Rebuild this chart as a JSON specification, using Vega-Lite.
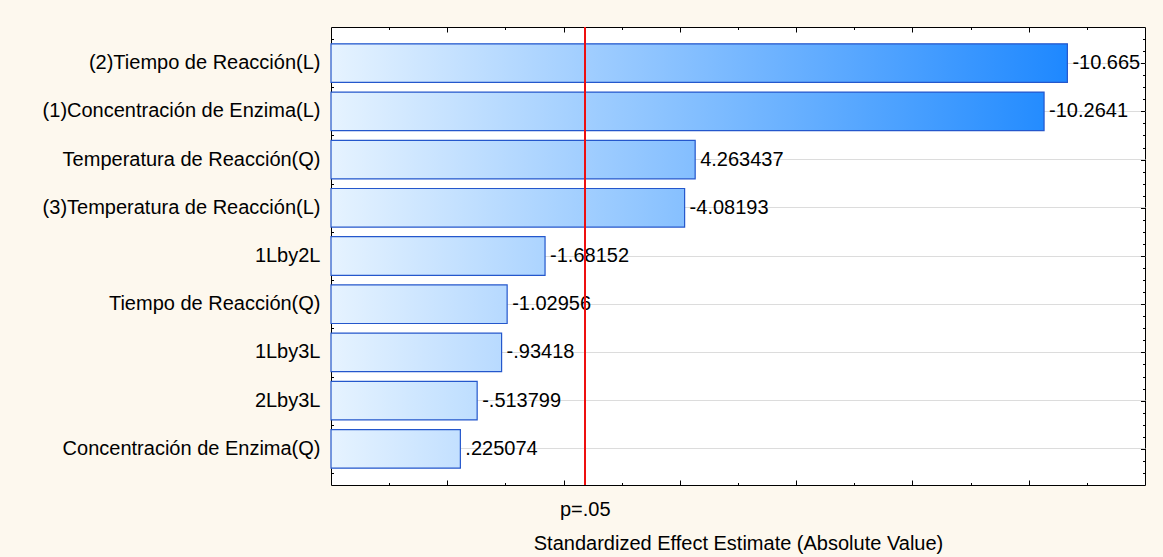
{
  "$schema": "https://vega.github.io/schema/vega-lite/v6.json",
  "width": 814,
  "height": 458,
  "background": "#fdf8ee",
  "padding": {"left": 42, "top": 26, "right": 17, "bottom": 5},
  "config": {
    "font": "Liberation Sans",
    "view": {"stroke": "#000000", "strokeWidth": 1, "fill": "#ffffff"},
    "axis": {
      "labelFont": "Liberation Sans",
      "titleFont": "Liberation Sans",
      "labelColor": "#000000",
      "titleColor": "#000000",
      "tickColor": "#000000",
      "tickWidth": 1,
      "titleFontWeight": "normal",
      "domain": false,
      "grid": false,
      "title": null,
      "maxExtent": 500
    }
  },
  "data": {
    "values": [
      {"effect": "(2)Tiempo de Reacción(L)", "t": 10.665, "label": "-10.665"},
      {"effect": "(1)Concentración de Enzima(L)", "t": 10.2641, "label": "-10.2641"},
      {"effect": "Temperatura de Reacción(Q)", "t": 4.263437, "label": "4.263437"},
      {"effect": "(3)Temperatura de Reacción(L)", "t": 4.08193, "label": "-4.08193"},
      {"effect": "1Lby2L", "t": 1.68152, "label": "-1.68152"},
      {"effect": "Tiempo de Reacción(Q)", "t": 1.02956, "label": "-1.02956"},
      {"effect": "1Lby3L", "t": 0.93418, "label": "-.93418"},
      {"effect": "2Lby3L", "t": 0.513799, "label": "-.513799"},
      {"effect": "Concentración de Enzima(Q)", "t": 0.225074, "label": ".225074"}
    ]
  },
  "layer": [
    {
      "mark": {"type": "bar"},
      "encoding": {
        "y": {"field": "effect", "type": "nominal", "sort": null,
              "scale": {"type": "band", "paddingInner": 0.2, "paddingOuter": 0.35},
              "axis": {"orient": "left", "ticks": false, "grid": true, "gridColor": "#dcdcdc", "gridWidth": 1,
                       "labels": true, "labelFontSize": 20, "labelPadding": 11, "labelLimit": 400}},
        "x": {"field": "t", "type": "quantitative",
              "scale": {"domain": [-2, 12], "nice": false, "zero": false},
              "axis": {"orient": "bottom", "values": [0, 2, 4, 6, 8, 10], "labels": false, "tickSize": -5}},
        "x2": {"datum": -2},
        "color": {"field": "t", "type": "quantitative", "legend": null,
                  "scale": {"domain": [-2, 12], "range": ["#e6f3ff", "#097dff"], "interpolate": "rgb"}}
      }
    },
    {
      "mark": {"type": "bar",
               "fill": {"gradient": "linear", "x1": 0, "x2": 1, "y1": 0, "y2": 0,
                        "stops": [{"offset": 0, "color": "#e6f3ff"}, {"offset": 1, "color": "rgba(230,243,255,0)"}]},
               "stroke": "#2457cc", "strokeWidth": 1.2},
      "encoding": {
        "y": {"field": "effect", "type": "nominal", "sort": null,
              "scale": {"type": "band", "paddingInner": 0.2, "paddingOuter": 0.35}, "axis": null},
        "x": {"field": "t", "type": "quantitative",
              "scale": {"domain": [-2, 12], "nice": false, "zero": false}, "axis": null},
        "x2": {"datum": -2}
      }
    },
    {
      "mark": {"type": "text", "align": "left", "baseline": "middle", "dx": 5, "fontSize": 20, "font": "Liberation Sans", "color": "#000000"},
      "encoding": {
        "y": {"field": "effect", "type": "nominal", "sort": null, "bandPosition": 0.5,
              "scale": {"type": "band", "paddingInner": 0.2, "paddingOuter": 0.35}, "axis": null},
        "x": {"field": "t", "type": "quantitative",
              "scale": {"domain": [-2, 12], "nice": false, "zero": false}, "axis": null},
        "text": {"field": "label"}
      }
    },
    {
      "mark": {"type": "rule", "color": "#ee1111", "strokeWidth": 1.5},
      "encoding": {
        "x": {"datum": 2.364624, "type": "quantitative",
              "scale": {"domain": [-2, 12], "nice": false, "zero": false},
              "axis": {"orient": "bottom", "values": [2.364624], "labelExpr": "'p=.05'", "ticks": false,
                       "labelFontSize": 20, "labelPadding": 14,
                       "title": "Standardized Effect Estimate (Absolute Value)", "titleFontSize": 20, "titlePadding": 14}}
      }
    },
    {
      "mark": {"type": "point", "opacity": 0},
      "encoding": {
        "x": {"datum": 0, "type": "quantitative",
              "scale": {"domain": [-2, 12], "nice": false, "zero": false},
              "axis": {"orient": "bottom", "values": [-1, 1, 3, 5, 7, 9, 11], "labels": false, "tickSize": -2.5}},
        "y": {"datum": 1, "type": "quantitative",
              "scale": {"domain": [0, 9.5], "reverse": true, "nice": false, "zero": false},
              "axis": {"orient": "left", "labels": false, "tickSize": -2.5,
                       "values": [0.25, 0.5, 1, 1.25, 1.5, 2, 2.25, 2.5, 3, 3.25, 3.5, 4, 4.25, 4.5, 5, 5.25, 5.5, 6, 6.25, 6.5, 7, 7.25, 7.5, 8, 8.25, 8.5, 9, 9.25]}}
      }
    },
    {
      "mark": {"type": "point", "opacity": 0},
      "encoding": {
        "x": {"datum": 0, "type": "quantitative",
              "scale": {"domain": [-2, 12], "nice": false, "zero": false},
              "axis": {"orient": "top", "values": [0, 2, 4, 6, 8, 10], "labels": false, "tickSize": -5}},
        "y": {"datum": 1, "type": "quantitative",
              "scale": {"domain": [0, 9.5], "reverse": true, "nice": false, "zero": false},
              "axis": {"orient": "left", "labels": false, "tickSize": -4.5,
                       "values": [0.75, 1.75, 2.75, 3.75, 4.75, 5.75, 6.75, 7.75, 8.75]}}
      }
    },
    {
      "mark": {"type": "point", "opacity": 0},
      "encoding": {
        "x": {"datum": 0, "type": "quantitative",
              "scale": {"domain": [-2, 12], "nice": false, "zero": false},
              "axis": {"orient": "top", "values": [-1, 1, 3, 5, 7, 9, 11], "labels": false, "tickSize": -2.5}},
        "y": {"datum": 1, "type": "quantitative",
              "scale": {"domain": [0, 9.5], "reverse": true, "nice": false, "zero": false},
              "axis": {"orient": "right", "labels": false, "tickSize": -2.5,
                       "values": [0.25, 0.5, 1, 1.25, 1.5, 2, 2.25, 2.5, 3, 3.25, 3.5, 4, 4.25, 4.5, 5, 5.25, 5.5, 6, 6.25, 6.5, 7, 7.25, 7.5, 8, 8.25, 8.5, 9, 9.25]}}
      }
    },
    {
      "mark": {"type": "point", "opacity": 0},
      "encoding": {
        "x": {"datum": 0, "type": "quantitative",
              "scale": {"domain": [-2, 12], "nice": false, "zero": false}, "axis": null},
        "y": {"datum": 1, "type": "quantitative",
              "scale": {"domain": [0, 9.5], "reverse": true, "nice": false, "zero": false},
              "axis": {"orient": "right", "labels": false, "tickSize": -4.5,
                       "values": [0.75, 1.75, 2.75, 3.75, 4.75, 5.75, 6.75, 7.75, 8.75]}}
      }
    }
  ],
  "resolve": {"scale": {"y": "independent"}, "axis": {"x": "independent", "y": "independent"}}
}
